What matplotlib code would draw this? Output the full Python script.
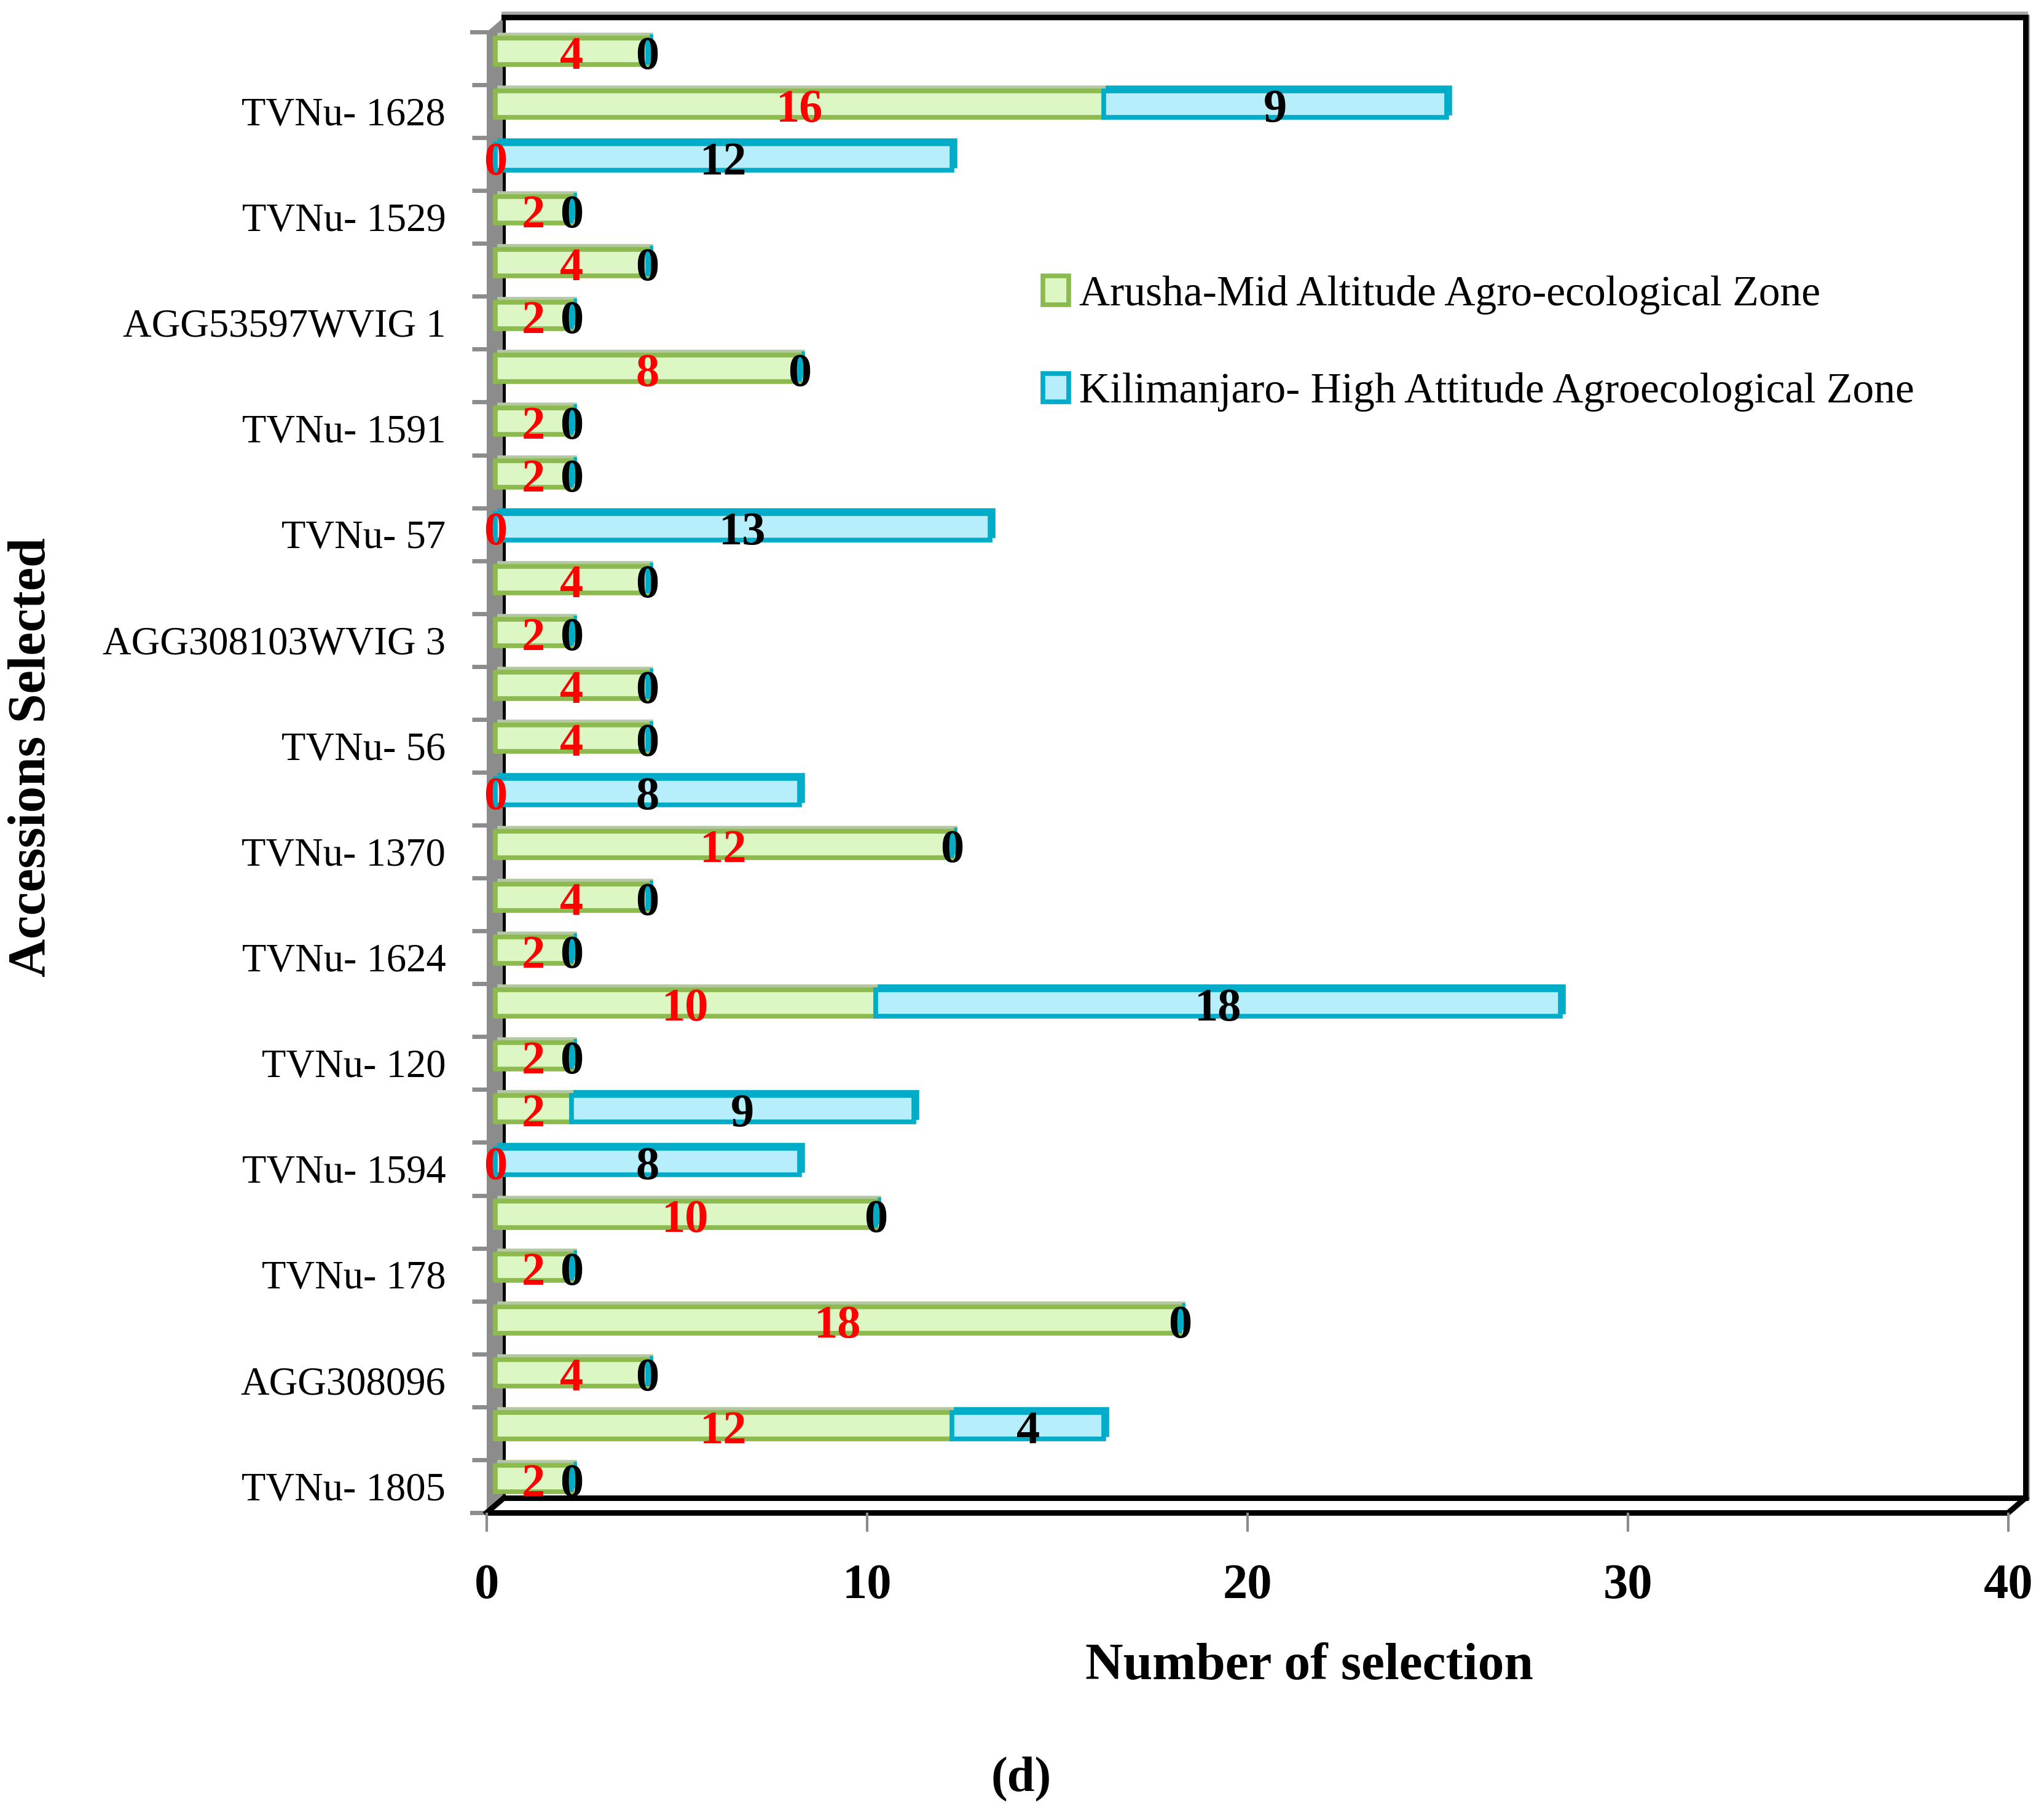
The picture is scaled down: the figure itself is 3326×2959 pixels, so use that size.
import numpy as np
import matplotlib.pyplot as plt
import matplotlib.transforms as mtransforms

# 데이터 (아래에서 위로)
accessions = ['TVNu- 1805', '', 'AGG308096', '', 'TVNu- 178', '', 'TVNu- 1594', '',
              'TVNu- 120', '', 'TVNu- 1624', '', 'TVNu- 1370', '', 'TVNu- 56', '',
              'AGG308103WVIG 3', '', 'TVNu- 57', '', 'TVNu- 1591', '', 'AGG53597WVIG 1', '',
              'TVNu- 1529', '', 'TVNu- 1628', '']
arusha = [2, 12, 4, 18, 2, 10, 0, 2, 2, 10, 2, 4, 12, 0, 4, 4, 2, 4, 0, 2, 2, 8, 2, 4, 2, 0, 16, 4]
kilimanjaro = [0, 4, 0, 0, 0, 0, 8, 9, 0, 18, 0, 0, 0, 8, 0, 0, 0, 0, 13, 0, 0, 0, 0, 0, 0, 12, 9, 0]
x_ticks = [0, 10, 20, 30, 40]
zone_names = ['Arusha-Mid Altitude Agro-ecological Zone',
              'Kilimanjaro- High Attitude Agroecological Zone']

W, H = 3326, 2959
fig = plt.figure(figsize=(W / 100, H / 100), dpi=100)
# 앞면 기준 좌표 (픽셀)
x0, x1 = 792, 3268
yb, yt = 2462, 52
ax = fig.add_axes([x0 / W, 1 - yb / H, (x1 - x0) / W, (yb - yt) / H])

n = len(accessions)
ypos = np.arange(n)
ax.set_xlim(0, 40)
ax.set_ylim(-0.5, n - 0.5)
for s in ax.spines.values():
    s.set_visible(False)

# 3D 깊이 오프셋 (px)
DX, DY = 28, 24
mid = ax.transData + mtransforms.ScaledTranslation(DX / 200, DY / 200, fig.dpi_scale_trans)
top3d = ax.transData + mtransforms.ScaledTranslation((DX / 2 + 6) / 100, (DY / 2 + 6) / 100,
                                                     fig.dpi_scale_trans)
dxa, dya = DX / (x1 - x0), DY / (yb - yt)

green_face, green_edge, green_top = '#dcf7c4', '#8cba4f', '#b3c8a2'
blue_face, blue_edge, blue_top = '#b6effb', '#00acc8', '#8ec9d3'
gray = '#8c8c8c'

# 왼쪽 벽과 뒤 프레임
ax.add_patch(plt.Polygon([(0, 0), (dxa, dya), (dxa, 1 + dya), (0, 1)], closed=True,
                         transform=ax.transAxes, facecolor=gray, edgecolor='none',
                         clip_on=False, zorder=1))
ax.plot([dxa, dxa], [dya, 1 + dya], transform=ax.transAxes, color='black', lw=3.6,
        clip_on=False, zorder=1.5)
ax.plot([dxa, 1 + dxa], [1 + dya + 0.002, 1 + dya + 0.002], transform=ax.transAxes,
        color='#a8a8a8', lw=6, clip_on=False, zorder=1.4)
ax.plot([1 + dxa + 0.0012, 1 + dxa + 0.0012], [dya, 1 + dya], transform=ax.transAxes,
        color='#a8a8a8', lw=6, clip_on=False, zorder=1.4)
ax.plot([dxa, 1 + dxa, 1 + dxa], [1 + dya, 1 + dya, dya], transform=ax.transAxes,
        color='black', lw=6.5, clip_on=False, zorder=1.5, solid_joinstyle='miter')
# 바닥
ax.plot([0, 1], [0, 0], transform=ax.transAxes, color='black', lw=6.5, clip_on=False,
        zorder=1.5, solid_capstyle='butt')
ax.plot([dxa, 1 + dxa], [dya, dya], transform=ax.transAxes, color='black', lw=6.5,
        clip_on=False, zorder=1.5, solid_capstyle='butt')
ax.plot([1, 1 + dxa], [0, dya], transform=ax.transAxes, color='black', lw=6.5,
        clip_on=False, zorder=1.5)
ax.plot([0, dxa], [0, dya], transform=ax.transAxes, color='black', lw=6.5,
        clip_on=False, zorder=1.5)

# 막대 (뒤쪽 윗면 + 앞면)
bh = 0.5
t1 = ax.barh(ypos, arusha, height=bh, color=green_top, edgecolor=green_top, linewidth=4,
             zorder=2.8)
t2 = ax.barh(ypos, kilimanjaro, left=arusha, height=bh, color=blue_top, edgecolor=blue_edge,
             linewidth=4, zorder=2.9)
for p in list(t1) + list(t2):
    p.set_transform(top3d)
    p.set_clip_on(False)
b1 = ax.barh(ypos, arusha, height=bh, color=green_face, edgecolor=green_edge,
             linewidth=5.5, zorder=3, label=zone_names[0])
b2 = ax.barh(ypos, kilimanjaro, left=arusha, height=bh, color=blue_face, edgecolor=blue_edge,
             linewidth=5.5, zorder=3.1, label=zone_names[1])
for p in list(b1) + list(b2):
    p.set_transform(mid)
    p.set_clip_on(False)

# 값 라벨
lab = ax.transData + mtransforms.ScaledTranslation(DX / 200, (DY / 2 - 10) / 100, fig.dpi_scale_trans)
for i in range(n):
    g, b = arusha[i], kilimanjaro[i]
    ax.text(g / 2, i, str(g), transform=lab, color='red', fontsize=55, fontweight='bold',
            family='Liberation Serif', ha='center', va='center', zorder=5, clip_on=False)
    ax.text(g + b / 2, i, str(b), transform=lab, color='black', fontsize=55, fontweight='bold',
            family='Liberation Serif', ha='center', va='center', zorder=5, clip_on=False)

# 축 눈금
ax.set_yticks(ypos)
ax.set_yticklabels(accessions, family='Liberation Serif', fontsize=46.5)
ax.set_yticks(ypos[:-1] + 0.5, minor=True)
ax.tick_params(axis='y', which='major', length=0, pad=48)
ax.tick_params(axis='y', which='minor', length=17, width=5, color=gray, direction='out')
ax.set_xticks(x_ticks)
ax.set_xticklabels([str(v) for v in x_ticks], family='Liberation Serif', fontsize=58,
                   fontweight='bold')
ax.tick_params(axis='x', length=22, width=3, color=gray, direction='out', pad=38)
# 맨 아래/위 경계 눈금
ax.plot([-0.38, 0], [-0.5, -0.5], color=gray, lw=5, clip_on=False, zorder=1)
ax.plot([-0.38, 0], [n - 0.5, n - 0.5], color=gray, lw=5, clip_on=False, zorder=1)

fig.text(53 / W, 1 - 1233 / H, 'Accessions Selected', rotation=90, ha='center', va='center',
         family='Liberation Serif', fontsize=62, fontweight='bold')
fig.text(2130 / W, 1 - 2712 / H, 'Number of selection', ha='center', va='center',
         family='Liberation Serif', fontsize=61.5, fontweight='bold')
fig.text(1662 / W, 1 - 2895 / H, '(d)', ha='center', va='center',
         family='Liberation Serif', fontsize=58, fontweight='bold')

leg = fig.legend(handles=[b1, b2], loc='upper left', bbox_to_anchor=(1697 / W, 1 - 448 / H),
                 frameon=False, prop={'family': 'Liberation Serif', 'size': 50},
                 handlelength=0.6, handleheight=0.66, handletextpad=0.25,
                 labelspacing=1.36, borderpad=0, borderaxespad=0)

fig.savefig('out.png', dpi=100, facecolor='white')
